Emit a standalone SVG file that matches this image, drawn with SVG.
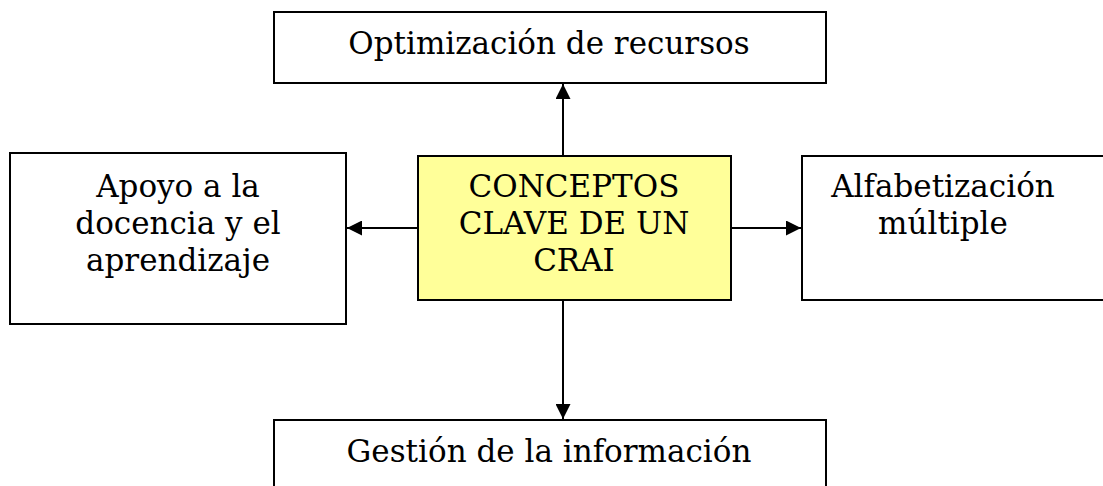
<svg xmlns="http://www.w3.org/2000/svg" width="1103" height="486" viewBox="0 0 1103 486">
<style>
.box{fill:#fff;stroke:#000;stroke-width:2}
.core{fill:#ffff99;stroke:#000;stroke-width:2}
.t{font-family:"DejaVu Serif","Liberation Serif",serif;font-size:31px;fill:#000;text-anchor:middle}
.c{stroke:#000;stroke-width:2;fill:none;marker-end:url(#ah)}
</style>
<defs>
<marker id="ah" viewBox="0 0 10 10" refX="10" refY="5" markerWidth="7.5" markerHeight="7.5" markerUnits="strokeWidth" orient="auto">
<path d="M0,0 L10,5 L0,10 Z" fill="#000"/>
</marker>
</defs>
<g id="connectors">
<line class="c" x1="563" y1="156" x2="563" y2="84"/>
<line class="c" x1="563" y1="300" x2="563" y2="419"/>
<line class="c" x1="418" y1="228" x2="347" y2="228"/>
<line class="c" x1="731" y1="228" x2="801" y2="228"/>
</g>
<g id="optimizacion">
<rect class="box" x="274" y="12" width="552" height="71"/>
<text class="t" x="549" y="54">Optimización de recursos</text>
</g>
<g id="apoyo">
<rect class="box" x="10" y="153" width="336" height="171"/>
<text class="t" x="178" y="197">Apoyo a la</text>
<text class="t" x="178" y="234">docencia y el</text>
<text class="t" x="178" y="271">aprendizaje</text>
</g>
<g id="concepto">
<rect class="core" x="418" y="156" width="313" height="144"/>
<text class="t" x="574" y="197">CONCEPTOS</text>
<text class="t" x="574" y="234">CLAVE DE UN</text>
<text class="t" x="574" y="271">CRAI</text>
</g>
<g id="alfabetizacion">
<rect class="box" x="802" y="156" width="310" height="144"/>
<text class="t" x="943" y="197">Alfabetización</text>
<text class="t" x="943" y="234">múltiple</text>
</g>
<g id="gestion">
<rect class="box" x="274" y="420" width="552" height="80"/>
<text class="t" x="549" y="462">Gestión de la información</text>
</g>
</svg>
